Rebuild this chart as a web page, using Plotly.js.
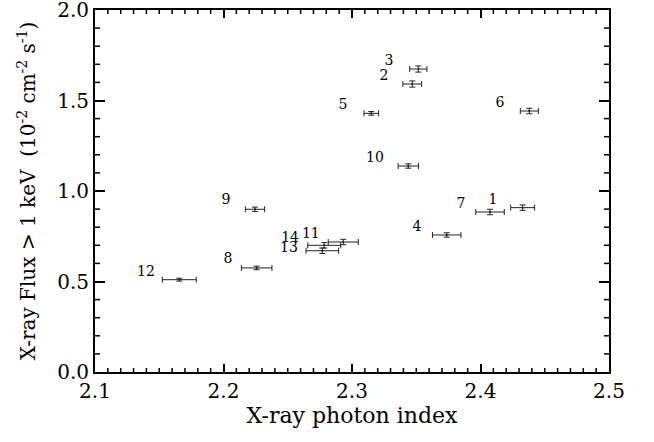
<!DOCTYPE html>
<html>
<head>
<meta charset="utf-8">
<script src="https://cdn.plot.ly/plotly-3.0.1.min.js"></script>
<style>html,body{margin:0;padding:0;background:#fff;}#plot{width:654px;height:442px;}.modebar-container,.modebar{display:none !important;}</style>
</head>
<body>
<div id="plot"></div>
<script>
// Observation numbers
const labels = ["1","2","3","4","5","6","7","8","9","10","11","12","13","14"];
// X-ray photon index
const photonIndex = [2.4328, 2.3469, 2.3516, 2.3737, 2.3150, 2.4380, 2.4074, 2.2258, 2.2245, 2.3438, 2.2932, 2.1656, 2.2769, 2.2784];
const photonIndexErr = [0.0093, 0.0073, 0.0067, 0.0111, 0.0057, 0.0070, 0.0111, 0.0119, 0.0075, 0.0079, 0.0117, 0.0132, 0.0127, 0.0128];
// X-ray flux > 1 keV (1e-2 cm^-2 s^-1)
const flux = [0.908, 1.591, 1.674, 0.757, 1.429, 1.442, 0.884, 0.575, 0.899, 1.138, 0.718, 0.510, 0.670, 0.700];
const fluxErr = [0.015, 0.017, 0.017, 0.012, 0.010, 0.015, 0.015, 0.010, 0.012, 0.012, 0.015, 0.008, 0.015, 0.015];
// label anchor positions (data coords)
const labelX = [2.4097, 2.3249, 2.3288, 2.3506, 2.2930, 2.4152, 2.3848, 2.2035, 2.2019, 2.3179, 2.2680, 2.1397, 2.2510, 2.2518];
const labelY = [0.945, 1.635, 1.718, 0.796, 1.470, 1.486, 0.928, 0.619, 0.945, 1.182, 0.757, 0.552, 0.685, 0.740];
// tick values
const xTicks = [2.1, 2.2, 2.3, 2.4, 2.5];
const xTickText = ["2.1", "2.2", "2.3", "2.4", "2.5"];
const yTicks = [0, 0.5, 1.0, 1.5, 2.0];
const yTickText = ["0.0", "0.5", "1.0", "1.5", "2.0"];

const font = "DejaVu Serif, Liberation Serif, serif";
const xRange = [2.1, 2.5];
const yRange = [0, 2.0];

// layout geometry
const W = 654, H = 442, M = {l: 95, r: 45, t: 10, b: 70};
const plotW = W - M.l - M.r, plotH = H - M.t - M.b;
const xPerPx = (xRange[1] - xRange[0]) / plotW;
const yPerPx = (yRange[1] - yRange[0]) / plotH;

// minor tick marks (inside, on all four sides)
const shapes = [];
const tickLine = {color: "#000", width: 1.5};
for (let i = 1; i < 40; i++) {
  if (i % 10 === 0) continue;
  const v = xRange[0] + i * 0.01;
  shapes.push({type: "line", xref: "x", yref: "y", x0: v, x1: v, y0: yRange[0], y1: yRange[0] + 4 * yPerPx, line: tickLine});
  shapes.push({type: "line", xref: "x", yref: "y", x0: v, x1: v, y0: yRange[1], y1: yRange[1] - 4 * yPerPx, line: tickLine});
}
for (let i = 1; i < 20; i++) {
  if (i % 5 === 0) continue;
  const v = yRange[0] + i * 0.1;
  shapes.push({type: "line", xref: "x", yref: "y", y0: v, y1: v, x0: xRange[0], x1: xRange[0] + 5 * xPerPx, line: tickLine});
  shapes.push({type: "line", xref: "x", yref: "y", y0: v, y1: v, x0: xRange[1], x1: xRange[1] - 5 * xPerPx, line: tickLine});
}

const data = [
  {
    type: "scatter", mode: "markers",
    x: photonIndex, y: flux,
    marker: {size: 2, color: "#222"},
    error_x: {type: "data", array: photonIndexErr, visible: true, color: "#222", thickness: 1, width: 3},
    error_y: {type: "data", array: fluxErr, visible: true, color: "#222", thickness: 1, width: 3}
  },
  {
    type: "scatter", mode: "text",
    x: labelX, y: labelY, text: labels,
    textfont: {family: font, size: 14, color: "#000"}
  }
];

const layout = {
  width: W, height: H,
  margin: M,
  showlegend: false,
  shapes: shapes,
  xaxis: {
    range: xRange, tickmode: "array", tickvals: xTicks, ticktext: xTickText,
    showgrid: false, zeroline: false,
    showline: true, linecolor: "#000", linewidth: 2, mirror: "ticks",
    ticks: "inside", ticklen: 8, tickwidth: 1.5, tickcolor: "#000",
    ticklabeloverflow: "allow",
    tickfont: {family: font, size: 20, color: "#000"},
    title: {text: "X-ray photon index", font: {family: font, size: 22, color: "#000"}, standoff: 2}
  },
  yaxis: {
    range: yRange, tickmode: "array", tickvals: yTicks, ticktext: yTickText,
    showgrid: false, zeroline: false,
    showline: true, linecolor: "#000", linewidth: 2, mirror: "ticks",
    ticks: "inside", ticklen: 10, tickwidth: 1.5, tickcolor: "#000",
    ticklabeloverflow: "allow",
    tickfont: {family: font, size: 20, color: "#000"},
    title: {text: "X-ray Flux > 1 keV  (10<sup>-2</sup> cm<sup>-2</sup> s<sup>-1</sup>)", font: {family: font, size: 20, color: "#000"}, standoff: 16}
  }
};

Plotly.newPlot("plot", data, layout);
</script>
</body>
</html>
